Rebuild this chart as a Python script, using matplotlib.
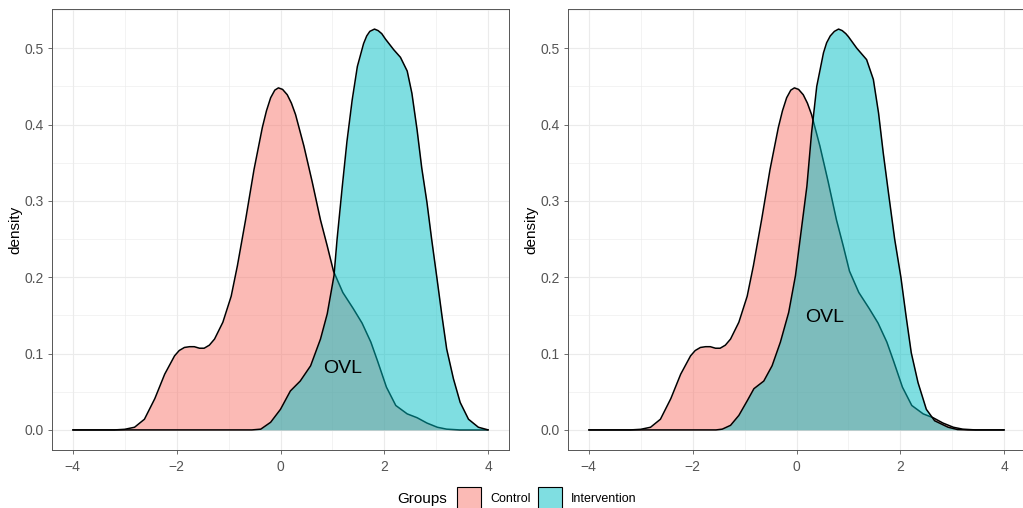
import numpy as np
import matplotlib
matplotlib.use("Agg")
import matplotlib.pyplot as plt
from matplotlib.patches import Rectangle

plt.rcParams['font.family'] = ['Liberation Sans', 'DejaVu Sans']

# density values
control_x = [-4.0, -3.2, -3.0, -2.81, -2.62, -2.42, -2.23, -2.04, -1.95, -1.85,
             -1.75, -1.66, -1.56, -1.47, -1.37, -1.27, -1.11, -0.95, -0.83, -0.67,
             -0.51, -0.35, -0.27, -0.19, -0.11, -0.04, 0.04, 0.13, 0.21, 0.29,
             0.45, 0.61, 0.77, 0.90, 1.02, 1.20, 1.40, 1.57, 1.74, 1.87,
             2.04, 2.22, 2.44, 2.63, 2.82, 3.02, 3.20, 3.45, 4.0]
control_y = [0.0, 0.0, 0.0008, 0.0035, 0.014, 0.041, 0.073, 0.097, 0.104, 0.108,
             0.109, 0.109, 0.107, 0.107, 0.111, 0.119, 0.141, 0.175, 0.215, 0.276,
             0.341, 0.396, 0.418, 0.435, 0.445, 0.448, 0.446, 0.439, 0.428, 0.413,
             0.372, 0.325, 0.275, 0.241, 0.208, 0.180, 0.159, 0.140, 0.115, 0.090,
             0.056, 0.032, 0.021, 0.016, 0.009, 0.0035, 0.001, 0.0, 0.0]

interv_left_x = [-4.0, -0.55, -0.38, -0.19, 0.0, 0.19, 0.38, 0.58, 0.77, 0.90,
                 1.03, 1.09, 1.19, 1.28, 1.38, 1.48, 1.60, 1.66, 1.72, 1.81,
                 1.88, 1.95, 2.02, 2.10, 2.18, 2.31, 2.44, 2.53, 2.63, 2.72,
                 2.82, 2.91, 3.01, 3.11, 3.20, 3.33, 3.46, 3.62, 3.81, 4.0]
interv_left_y = [0.0, 0.0, 0.001, 0.010, 0.027, 0.051, 0.064, 0.084, 0.119, 0.152,
                 0.202, 0.250, 0.319, 0.378, 0.432, 0.476, 0.506, 0.516, 0.522, 0.525,
                 0.523, 0.519, 0.512, 0.505, 0.498, 0.488, 0.470, 0.441, 0.393, 0.343,
                 0.298, 0.250, 0.200, 0.149, 0.106, 0.067, 0.036, 0.014, 0.0035, 0.0]

interv_right_x = [-4.0, -1.55, -1.43, -1.27, -1.11, -0.95, -0.82, -0.63, -0.47, -0.31,
                  -0.15, -0.02, 0.07, 0.20, 0.29, 0.39, 0.52, 0.58, 0.65, 0.73,
                  0.81, 0.88, 0.95, 1.00, 1.16, 1.35, 1.48, 1.58, 1.67, 1.77,
                  1.89, 2.01, 2.11, 2.21, 2.34, 2.50, 2.66, 2.92, 3.10, 3.30, 4.0]
interv_right_y = [0.0, 0.0, 0.001, 0.006, 0.019, 0.038, 0.054, 0.064, 0.084, 0.115,
                  0.154, 0.202, 0.250, 0.319, 0.389, 0.450, 0.494, 0.507, 0.516, 0.522,
                  0.525, 0.523, 0.519, 0.515, 0.500, 0.485, 0.459, 0.415, 0.363, 0.311,
                  0.250, 0.200, 0.149, 0.101, 0.062, 0.027, 0.012, 0.0035, 0.0005, 0.0, 0.0]

groups = ['Control', 'Intervention']
colors = ['#F8766D', '#00BFC4']
ovl_pos = [(1.2, 0.08), (0.54, 0.147)]

fig = plt.figure(figsize=(10.23, 5.08), dpi=100)
W, H = 1023, 508
ax_l = fig.add_axes([52 / W, 58 / H, 457 / W, 441 / H])
ax_r = fig.add_axes([568 / W, 58 / H, 457 / W, 441 / H])

panels = [(ax_l, interv_left_x, interv_left_y), (ax_r, interv_right_x, interv_right_y)]
for i, (ax, ix, iy) in enumerate(panels):
    curves = [(control_x, control_y), (ix, iy)]
    for k, ((x, y), c) in enumerate(zip(curves, colors)):
        ax.fill_between(x, 0, y, color=c, alpha=0.5, linewidth=0, zorder=2 + 2 * k)
        ax.plot(x, y, color='black', linewidth=1.1, zorder=3 + 2 * k,
                solid_joinstyle='round', solid_capstyle='round')
    ax.text(ovl_pos[i][0], ovl_pos[i][1], 'OVL', fontsize=14, ha='center', va='center',
            color='black', zorder=10)

    ax.set_xlim(-4.4, 4.4)
    ax.set_ylim(-0.0263, 0.5513)
    ax.set_xticks([-4, -2, 0, 2, 4])
    ax.set_xticks([-3, -1, 1, 3], minor=True)
    ax.set_yticks([0, 0.1, 0.2, 0.3, 0.4, 0.5])
    ax.set_yticklabels(['0.0', '0.1', '0.2', '0.3', '0.4', '0.5'])
    ax.set_yticks([0.05, 0.15, 0.25, 0.35, 0.45, 0.55], minor=True)
    ax.grid(which='major', color='#EBEBEB', linewidth=0.8, zorder=0)
    ax.grid(which='minor', color='#EBEBEB', linewidth=0.4, zorder=0)
    ax.set_axisbelow(True)
    ax.tick_params(which='major', length=3, width=0.6, color='#555555',
                   labelsize=10, labelcolor='#555555', pad=3)
    ax.tick_params(axis='x', which='major', pad=4)
    ax.tick_params(which='minor', length=0)
    for s in ax.spines.values():
        s.set_color('#555555')
        s.set_linewidth(0.7)
    ax.set_ylabel('density', fontsize=11, labelpad=1.5)

# legend at the bottom
fig.text(397 / W, 1 - 499 / H, 'Groups', fontsize=11, ha='left', va='center')
key_x = [457, 538]
text_x = [490, 571]
for g, c, kx, tx in zip(groups, colors, key_x, text_x):
    fig.add_artist(Rectangle((kx / W, (H - 511) / H), 24 / W, 24 / H,
                             transform=fig.transFigure, facecolor=c, alpha=0.5,
                             edgecolor='none'))
    fig.add_artist(Rectangle((kx / W, (H - 511) / H), 24 / W, 24 / H,
                             transform=fig.transFigure, facecolor='none',
                             edgecolor='black', linewidth=0.8))
    fig.text(tx / W, 1 - 499 / H, g, fontsize=9, ha='left', va='center')

fig.savefig('out.png', dpi=100)
